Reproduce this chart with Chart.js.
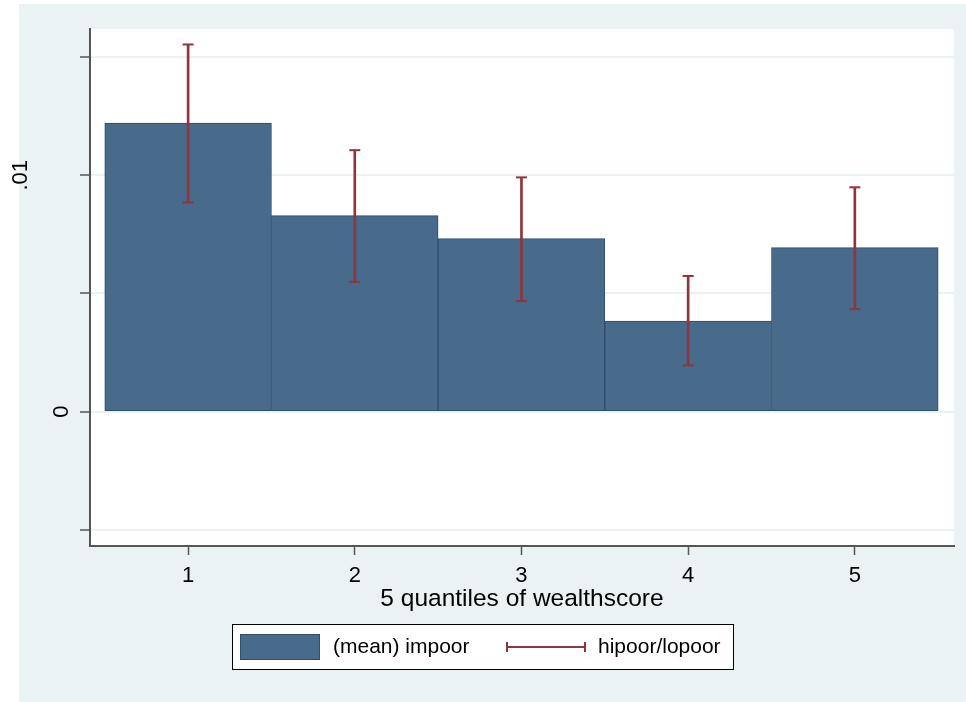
<!DOCTYPE html>
<html>
<head>
<meta charset="utf-8">
<script src="https://cdn.jsdelivr.net/npm/chart.js@4.4.1/dist/chart.umd.min.js"></script>
<style>
  html, body { margin: 0; padding: 0; background: #ffffff; }
  #wrap { width: 966px; height: 702px; }
</style>
</head>
<body>
<div id="wrap"><canvas id="c" width="966" height="702"></canvas></div>
<script>
// ---- data ----
const quantiles = [1, 2, 3, 4, 5];
const meanImpoor = [0.01221, 0.00829, 0.00732, 0.00383, 0.00694];
const hiPoor = [0.01553, 0.01106, 0.00991, 0.00574, 0.00949];
const loPoor = [0.00885, 0.00549, 0.00468, 0.00196, 0.00434];
const yTickValues = [-0.005, 0, 0.005, 0.01, 0.015];
const yTickLabels = ['', '0', '', '.01', ''];
const xTickValues = [1, 2, 3, 4, 5];
const seriesLabels = ['(mean) impoor', 'hipoor/lopoor'];
const xTitle = '5 quantiles of wealthscore';

// ---- style ----
const FONT = "'Liberation Sans', Arial, Helvetica, sans-serif";
const BAR_FILL = '#486a8b';
const BAR_LINE = '#2e4e6e';
const ERR = '#90353b';
const BG = '#eaf2f3';
const AXIS = '#555555';

const bgPlugin = {
  id: 'stataBg',
  beforeDraw(chart) {
    const ctx = chart.ctx, a = chart.chartArea;
    ctx.save();
    ctx.fillStyle = '#ffffff';
    ctx.fillRect(0, 0, chart.width, chart.height);
    ctx.fillStyle = BG;
    ctx.fillRect(19, 4, chart.width - 19, chart.height - 4);
    ctx.fillStyle = '#ffffff';
    ctx.fillRect(a.left, a.top, a.right - a.left, a.bottom - a.top);
    ctx.restore();
  },
  afterDraw(chart) {
    const ctx = chart.ctx;
    const ys = chart.scales.y;
    ctx.save();
    ctx.fillStyle = '#000000';
    ctx.font = '22px ' + FONT;
    ctx.textAlign = 'center';
    ctx.textBaseline = 'middle';
    const labelX = { '0': 62, '.01': 21 };
    yTickValues.forEach((v, i) => {
      const t = yTickLabels[i];
      if (!t) return;
      const py = ys.getPixelForValue(v);
      ctx.save();
      ctx.translate(labelX[t] !== undefined ? labelX[t] : 40, py);
      ctx.rotate(-Math.PI / 2);
      ctx.fillText(t, 0, 0);
      ctx.restore();
    });

    // legend
    const lx = 232, ly = 624, lw = 501, lh = 45;
    ctx.fillStyle = '#ffffff';
    ctx.fillRect(lx, ly, lw, lh);
    ctx.strokeStyle = '#000000';
    ctx.lineWidth = 1;
    ctx.strokeRect(lx + 0.5, ly + 0.5, lw, lh);
    const cy = ly + lh / 2 + 0.5;
    ctx.fillStyle = BAR_FILL;
    ctx.fillRect(240, 634, 80, 26);
    ctx.strokeStyle = BAR_LINE;
    ctx.strokeRect(240.5, 634.5, 79, 25);
    ctx.fillStyle = '#000000';
    ctx.font = '21px ' + FONT;
    ctx.textAlign = 'left';
    ctx.textBaseline = 'middle';
    ctx.fillText(chart.data.datasets[0].label, 333, cy);
    ctx.strokeStyle = ERR;
    ctx.lineWidth = 2;
    ctx.beginPath();
    ctx.moveTo(506, cy); ctx.lineTo(586, cy);
    ctx.moveTo(507, cy - 5); ctx.lineTo(507, cy + 5);
    ctx.moveTo(585, cy - 5); ctx.lineTo(585, cy + 5);
    ctx.stroke();
    ctx.fillStyle = '#000000';
    ctx.fillText(chart.data.datasets[1].label, 598, cy);
    ctx.restore();
  }
};

const ctx = document.getElementById('c').getContext('2d');
new Chart(ctx, {
  data: {
    datasets: [
      {
        type: 'bar',
        label: seriesLabels[0],
        data: quantiles.map((q, i) => ({ x: q, y: meanImpoor[i] })),
        backgroundColor: BAR_FILL,
        borderColor: BAR_LINE,
        borderWidth: 1,
        borderSkipped: false,
        barPercentage: 1,
        categoryPercentage: 1,
        grouped: false,
        order: 3
      },
      {
        type: 'bar',
        label: seriesLabels[1],
        data: quantiles.map((q, i) => ({ x: q, y: [loPoor[i], hiPoor[i]] })),
        backgroundColor: ERR,
        borderWidth: 0,
        barThickness: 2,
        grouped: false,
        order: 2
      },
      {
        type: 'scatter',
        label: 'hi',
        data: quantiles.map((q, i) => ({ x: q, y: hiPoor[i] })),
        pointStyle: 'line',
        radius: 5.5,
        borderColor: ERR,
        borderWidth: 2,
        order: 1
      },
      {
        type: 'scatter',
        label: 'lo',
        data: quantiles.map((q, i) => ({ x: q, y: loPoor[i] })),
        pointStyle: 'line',
        radius: 5.5,
        borderColor: ERR,
        borderWidth: 2,
        order: 1
      }
    ]
  },
  options: {
    responsive: false,
    animation: false,
    layout: { padding: { left: 0, right: 12, top: 29, bottom: 80 } },
    plugins: {
      legend: { display: false },
      tooltip: { enabled: false }
    },
    scales: {
      x: {
        type: 'linear',
        offset: false,
        min: 0.4114,
        max: 5.595,
        afterBuildTicks(scale) { scale.ticks = xTickValues.map(v => ({ value: v })); },
        afterFit(scale) { scale.height = 76; },
        ticks: {
          callback: (v) => String(v),
          color: '#000000',
          font: { family: FONT, size: 22 },
          padding: 8,
          maxRotation: 0,
          autoSkip: false
        },
        grid: {
          offset: false,
          drawOnChartArea: false,
          drawTicks: true,
          tickLength: 9,
          tickColor: AXIS,
          tickWidth: 1.5
        },
        border: { display: true, color: AXIS, width: 2 },
        title: {
          display: true,
          text: xTitle,
          color: '#000000',
          font: { family: FONT, size: 24.5 },
          padding: { top: 0, bottom: 8 }
        }
      },
      y: {
        type: 'linear',
        min: -0.005677,
        max: 0.016184,
        afterBuildTicks(scale) { scale.ticks = yTickValues.map(v => ({ value: v })); },
        afterFit(scale) { scale.width = 90; },
        ticks: { display: false },
        grid: {
          color: BG,
          lineWidth: 2,
          drawTicks: true,
          tickLength: 10,
          tickColor: AXIS,
          tickWidth: 1.5
        },
        border: { display: true, color: AXIS, width: 2 }
      }
    }
  },
  plugins: [bgPlugin]
});
</script>
</body>
</html>
